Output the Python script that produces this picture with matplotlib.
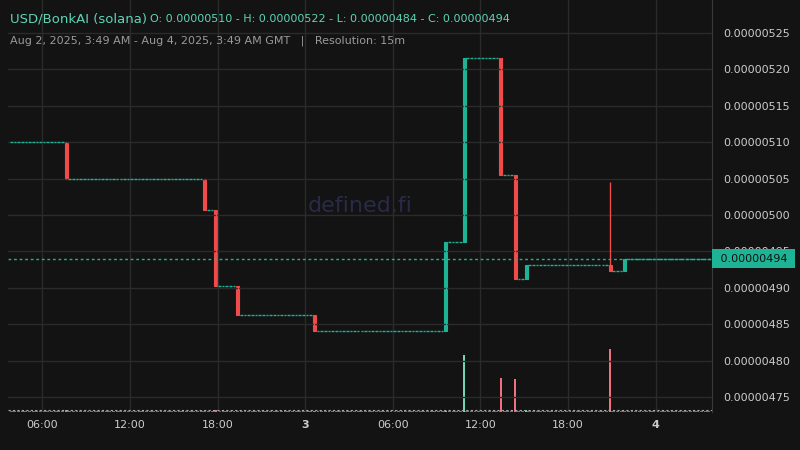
import matplotlib.pyplot as plt
from matplotlib.patches import Rectangle

# hours since Aug 2 00:00, 15m candles
start_h = 3.75
end_h = 51.75
slot = 0.25
open_price = 510

# candles where price moved: (hour, open, high, low, close), units 1e-8
moves = [
    (7.50, 510.0, 510.0, 505.0, 505.0),
    (17.00, 505.0, 505.0, 500.7, 500.7),
    (17.75, 500.7, 500.7, 490.3, 490.3),
    (19.25, 490.3, 490.3, 486.3, 486.3),
    (24.50, 486.3, 486.3, 484.1, 484.1),
    (33.50, 484.1, 496.3, 484.1, 496.3),
    (34.75, 496.3, 521.6, 496.3, 521.6),
    (37.25, 521.6, 521.6, 505.5, 505.5),
    (38.25, 505.5, 505.5, 491.2, 491.2),
    (39.00, 491.2, 493.1, 491.2, 493.1),
    (44.75, 493.1, 504.5, 492.3, 492.3),
    (45.75, 492.3, 494.0, 492.3, 494.0),
]
# volume spikes (arbitrary units)
vol_hours = [7.50, 17.75, 24.50, 33.50, 34.75, 37.25, 38.25, 39.00, 44.75]
vol_values = [1.5, 1.2, 1.0, 1.0, 52, 31, 30, 2.0, 58]
last_price = 494.0

xticks = [6, 12, 18, 24, 30, 36, 42, 48]
xlabels = ['06:00', '12:00', '18:00', '3', '06:00', '12:00', '18:00', '4']
yticks = [475, 480, 485, 490, 495, 500, 505, 510, 515, 520, 525]

GREEN = '#1db394'
RED = '#f04a4a'
BG = '#131313'
GRID = '#2b2b2b'

fig = plt.figure(figsize=(8, 4.5), dpi=100, facecolor=BG)
ax = fig.add_axes([0.01, 0.085, 0.88, 0.915], facecolor=BG)
vax = ax.twinx()
vax.set_zorder(0)
ax.set_zorder(1)
ax.patch.set_visible(False)
vax.patch.set_facecolor(BG)

move_map = {m[0]: m for m in moves}
price = open_price
w = slot * 0.8
h = start_h
while h < end_h:
    if h in move_map:
        _, o, hi, lo, c = move_map[h]
        col = GREEN if c >= o else RED
        ax.vlines(h + slot / 2, lo, hi, color=col, lw=1)
        ax.add_patch(Rectangle((h + slot / 2 - w / 2, min(o, c)), w, max(abs(c - o), 0.25),
                               facecolor=col, edgecolor=col, lw=0.8))
        price = c
    else:
        ax.hlines(price, h + slot / 2 - w / 2 * 0.9, h + slot / 2 + w / 2 * 0.9, color=GREEN, lw=1)
    h += slot

# volume
vh = start_h
while vh < end_h:
    vax.bar(vh + slot / 2, 0.6, width=w, color='#4a8a7a', lw=0)
    vh += slot
for t, v in zip(vol_hours, vol_values):
    m = move_map.get(t)
    col = '#6fd6b0' if m and m[4] >= m[1] else '#f07080'
    vax.bar(t + slot / 2, v, width=w * 0.7, color=col, lw=0)
vax.set_ylim(0, 380)
vax.set_yticks([])
for s in vax.spines.values():
    s.set_visible(False)

ax.axhline(last_price, color=GREEN, ls=(0, (2, 2)), lw=1)
ax.axhline(473.2, color='#aaaaaa', ls=(0, (2, 2)), lw=0.8)

ax.set_xlim(start_h - 0.1, end_h + 0.1)
ax.set_ylim(473.0, 529.5)
ax.set_xticks(xticks)
ax.set_xticklabels(xlabels)
for lbl, txt in zip(ax.get_xticklabels(), xlabels):
    if ':' not in txt:
        lbl.set_fontweight('bold')
ax.set_yticks(yticks)
ax.set_yticklabels(['0.%08d' % v for v in yticks])
ax.yaxis.tick_right()
ax.tick_params(colors='#cccccc', labelsize=8, length=0, pad=8)
ax.tick_params(axis='x', pad=6)
ax.grid(True, color=GRID, lw=1)
for s in ['top', 'left', 'bottom']:
    ax.spines[s].set_visible(False)
ax.spines['right'].set_color('#3a3a3a')

ax.text(0.5, 0.50, 'defined.fi', transform=ax.transAxes, ha='center', va='center',
        fontsize=16, color='#2a2a48', zorder=0)
ax.text(1.007, (last_price - 473.0) / (529.5 - 473.0), ' 0.%08d ' % last_price,
        transform=ax.transAxes, ha='left', va='center', fontsize=8, color='#111111',
        zorder=10, clip_on=False,
        bbox=dict(boxstyle='square,pad=0.4', fc=GREEN, ec='none'))

fig.text(0.012, 0.957, 'USD/BonkAI (solana)', color='#5fd3b5', fontsize=9.5, va='center')
fig.text(0.188, 0.957, 'O: 0.00000510 - H: 0.00000522 - L: 0.00000484 - C: 0.00000494',
         color='#5fd3b5', fontsize=8, va='center')
fig.text(0.012, 0.91, 'Aug 2, 2025, 3:49 AM - Aug 4, 2025, 3:49 AM GMT   |   Resolution: 15m',
         color='#9a9a9a', fontsize=8, va='center')

fig.savefig('out.png', facecolor=BG)
